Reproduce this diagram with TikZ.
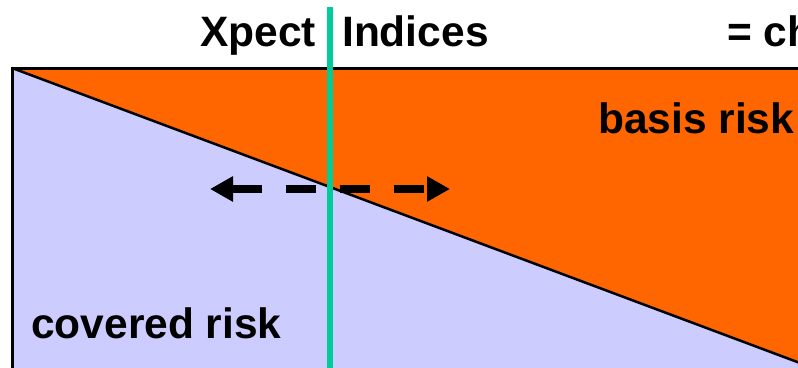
\documentclass[tikz,border=0pt]{standalone}
\usepackage{fontspec}
\setmainfont{Liberation Sans}
\usepackage{tikz}
\usetikzlibrary{arrows.meta,calc,positioning}
\definecolor{basisorange}{HTML}{FF6600}
\definecolor{coverblue}{HTML}{CCCCFF}
\definecolor{xpectgreen}{HTML}{00CC99}
\tikzset{
  lbl/.style={inner sep=0pt,font=\fontsize{42.5}{48}\selectfont\bfseries},
  shift arrow/.style={line width=8pt,dash pattern=on 30pt off 24pt,
    {Triangle[length=23pt,width=24pt]}-{Triangle[length=23pt,width=24pt]}}
}
\begin{document}
\begin{tikzpicture}[x=1pt,y=-1pt]
  \useasboundingbox (0,0) rectangle (798,367);
  % the two shares of the risk
  \fill[coverblue] (12,68) rectangle (800,370);
  \fill[basisorange] (12,68) -- (800,68) -- (800,363) -- cycle;
  \draw[line width=3pt] (12,370) -- (12,68) -- (800,68);
  \draw[line width=2.5pt] (12,68) -- (800,363);
  \coordinate (shiftL) at (210,189);
  \coordinate (shiftR) at (450,189);
  \draw[shift arrow] (shiftL) -- (shiftR);
  \coordinate (cutT) at (330,7);
  \coordinate (cutB) at (330,370);
  \draw[xpectgreen,line width=5.5pt] (cutT) -- (cutB);
  \node[lbl,anchor=base east] (xpect) at (316,46) {Xpect};
  \node[lbl,anchor=base west] (indices) at (342,46) {Indices};
  \node[lbl,anchor=base west] (change) at (727,46) {= ch};
  \node[lbl,anchor=base west] (basis) at (598,133) {basis risk};
  \node[lbl,anchor=base west] (covered) at (31,338) {covered risk};
\end{tikzpicture}
\end{document}
